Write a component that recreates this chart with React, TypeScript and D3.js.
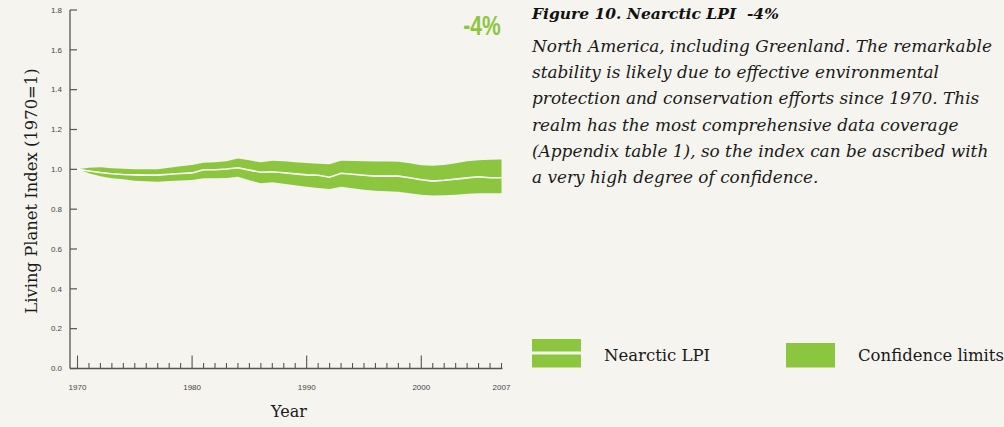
import React from "react";
import * as d3 from "d3";

const years: number[] = d3.range(1970, 2008);
const lpi: number[] = [
  1.0, 0.992, 0.984, 0.978, 0.974, 0.972, 0.971, 0.971, 0.975, 0.979,
  0.982, 0.998, 0.998, 1.002, 1.008, 0.996, 0.985, 0.988, 0.983, 0.977,
  0.972, 0.97, 0.96, 0.98, 0.975, 0.97, 0.966, 0.966, 0.966, 0.958,
  0.948, 0.941, 0.945, 0.951, 0.957, 0.963, 0.958, 0.958,
];
const upper: number[] = [
  1.0, 1.008, 1.01, 1.006, 1.003, 1.001, 1.0, 1.0, 1.008, 1.015,
  1.022, 1.033, 1.035, 1.04, 1.055, 1.045, 1.035, 1.043, 1.04, 1.035,
  1.032, 1.028, 1.025, 1.043, 1.042, 1.04, 1.039, 1.039, 1.038, 1.03,
  1.021, 1.018, 1.022, 1.03, 1.04, 1.045, 1.048, 1.05,
];
const lower: number[] = [
  1.0, 0.98, 0.965, 0.955, 0.95, 0.943, 0.94, 0.938, 0.941, 0.944,
  0.946, 0.955, 0.955, 0.957, 0.963, 0.945, 0.93, 0.935, 0.928, 0.92,
  0.913, 0.906, 0.901, 0.913, 0.905, 0.898, 0.893, 0.89, 0.888, 0.88,
  0.872, 0.868, 0.87, 0.873, 0.877, 0.88, 0.88, 0.88,
];
const yTicks: number[] = [0, 0.2, 0.4, 0.6, 0.8, 1.0, 1.2, 1.4, 1.6, 1.8];
const xMajor: number[] = [1970, 1980, 1990, 2000];
const xLabels: number[] = [1970, 1980, 1990, 2000, 2007];

const titleText = "Figure 10. Nearctic LPI  -4%";
const bodyLines: string[] = [
  "North America, including Greenland. The remarkable",
  "stability is likely due to effective environmental",
  "protection and conservation efforts since 1970. This",
  "realm has the most comprehensive data coverage",
  "(Appendix table 1), so the index can be ascribed with",
  "a very high degree of confidence.",
];
const changeLabel = "-4%";
const legendLabels: string[] = ["Nearctic LPI", "Confidence limits"];

const GREEN = "#8cc63f";
const BG = "#f5f4ee";
const AXIS = "#555";

export default function App() {
  const x = d3.scaleLinear().domain([1970, 2007]).range([77.5, 501.5]);
  const y = d3.scaleLinear().domain([0, 1.8]).range([368.5, 10]);

  const band = d3
    .area<number>()
    .x((_, i) => x(years[i]))
    .y0((_, i) => y(lower[i]))
    .y1((_, i) => y(upper[i]));
  const line = d3
    .line<number>()
    .x((_, i) => x(years[i]))
    .y((d) => y(d));

  const serif = "'DejaVu Serif', serif";
  const sans = "'Liberation Sans', Arial, sans-serif";

  return (
    <svg
      width={1004}
      height={427}
      style={{ position: "absolute", left: 0, top: 0, display: "block" }}
    >
      <rect x={0} y={0} width={1004} height={427} fill={BG} />

      {/* band + mean line */}
      <path d={band(years) || ""} fill={GREEN} />
      <path d={line(lpi) || ""} fill="none" stroke="#fff" strokeWidth={1.6} />

      {/* y axis */}
      <line x1={70} x2={70} y1={y(1.8)} y2={y(0)} stroke={AXIS} strokeWidth={1.3} />
      {yTicks.map((t) => (
        <g key={t}>
          <line x1={70} x2={77} y1={y(t)} y2={y(t)} stroke={AXIS} strokeWidth={1.2} />
          <text
            x={62}
            y={y(t)}
            dy="0.35em"
            textAnchor="end"
            fontFamily={sans}
            fontSize={8}
            fill="#444"
          >
            {t.toFixed(1)}
          </text>
        </g>
      ))}

      {/* x axis */}
      <line x1={70} x2={x(2007) + 1} y1={y(0)} y2={y(0)} stroke={AXIS} strokeWidth={1.3} />
      {years.map((yr) => {
        const major = xMajor.includes(yr);
        return (
          <line
            key={yr}
            x1={x(yr)}
            x2={x(yr)}
            y1={y(0)}
            y2={y(0) - (major ? 13 : 5.5)}
            stroke={AXIS}
            strokeWidth={1.1}
          />
        );
      })}
      {xLabels.map((yr) => (
        <text
          key={yr}
          x={x(yr)}
          y={387}
          dy="0.35em"
          textAnchor="middle"
          fontFamily={sans}
          fontSize={8}
          fill="#444"
        >
          {yr}
        </text>
      ))}

      {/* axis titles */}
      <text x={289} y={417} textAnchor="middle" fontFamily={serif} fontSize={16} fill="#1a1a1a">
        Year
      </text>
      <text
        transform="translate(37,191) rotate(-90)"
        textAnchor="middle"
        fontFamily={serif}
        fontSize={16.4}
        fill="#1a1a1a"
      >
        Living Planet Index (1970=1)
      </text>

      {/* big change label */}
      <text
        transform="translate(482,35) scale(0.78,1)"
        textAnchor="middle"
        fontFamily={sans}
        fontWeight="bold"
        fontSize={27}
        fill={GREEN}
      >
        {changeLabel}
      </text>

      {/* title + body */}
      <text
        x={532}
        y={19}
        fontFamily={serif}
        fontStyle="italic"
        fontWeight="bold"
        fontSize={15.5}
        fill="#111"
        style={{ whiteSpace: "pre" }}
      >
        {titleText}
      </text>
      {bodyLines.map((l, i) => (
        <text
          key={i}
          x={532}
          y={52 + i * 26.2}
          fontFamily={serif}
          fontStyle="italic"
          fontSize={16.9}
          fill="#1a1a1a"
        >
          {l}
        </text>
      ))}

      {/* legend */}
      <rect x={532} y={339} width={49} height={12.5} fill={GREEN} />
      <rect x={532} y={354.5} width={49} height={13} fill={GREEN} />
      <text x={604} y={361} fontFamily={serif} fontSize={16.5} fill="#1a1a1a">
        {legendLabels[0]}
      </text>
      <rect x={786} y={343} width={49} height={24.5} fill={GREEN} />
      <text x={858} y={361} fontFamily={serif} fontSize={16.5} fill="#1a1a1a">
        {legendLabels[1]}
      </text>
    </svg>
  );
}
